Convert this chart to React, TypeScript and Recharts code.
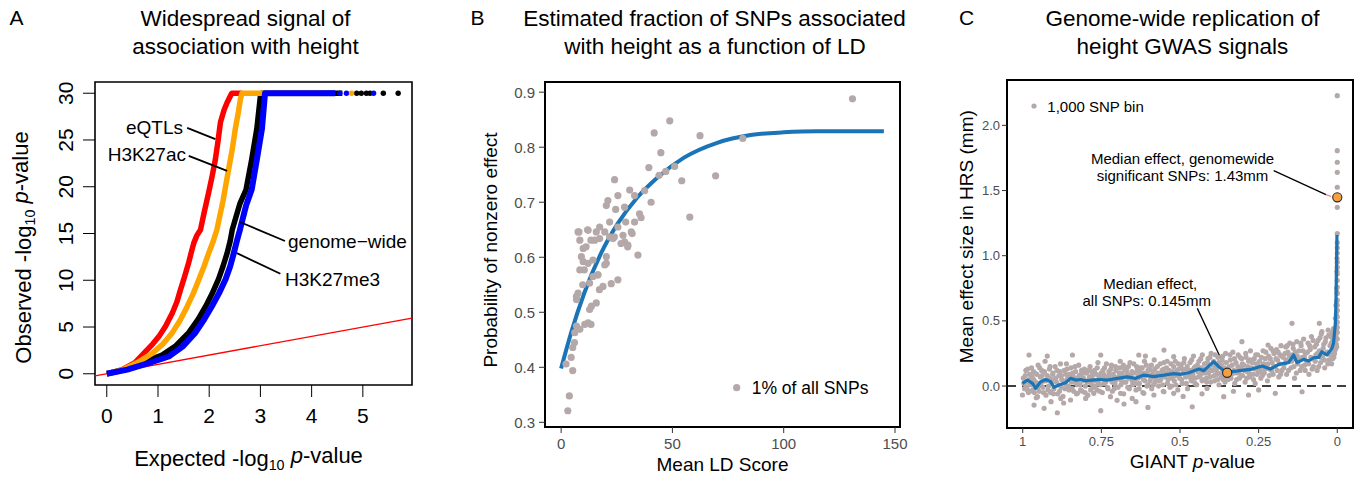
import React from 'react'
import {
  ComposedChart, Line, Scatter, XAxis, YAxis,
  ReferenceLine, ReferenceArea,
} from 'recharts'

const FONT = '"Liberation Sans", Arial, Helvetica, sans-serif'
const GREY_PT = '#B5A8A8'
const BLUE = '#1A74B6'
const ORANGE = '#F5A040'

type Pair = [number, number]
const pts = (a: Pair[]) => a.map(([x, y]) => ({ x, y }))

// ---------- A: QQ plot (expected vs observed -log10 p) ----------
const qqTicksX = [0, 1, 2, 3, 4, 5]
const qqTicksY = [0, 5, 10, 15, 20, 25, 30]

const eqtlCurve: Pair[] = [
  [0, 0], [0.3, 0.45], [0.55, 1.2], [0.76, 2.4], [0.9, 3.2], [1.02, 4.0], [1.15, 5.1],
  [1.28, 6.5], [1.37, 7.7], [1.44, 9.0], [1.52, 10.4], [1.6, 11.9], [1.66, 13.2],
  [1.7, 14.0], [1.76, 14.8], [1.83, 15.4], [1.9, 17.2], [1.99, 19.4], [2.06, 21.2],
  [2.12, 22.9], [2.17, 24.8], [2.22, 26.9], [2.29, 28.2], [2.35, 29.0], [2.44, 30], [2.64, 30],
]
const h3k27acCurve: Pair[] = [
  [0, 0], [0.3, 0.4], [0.6, 1.2], [0.89, 2.2], [1.1, 3.2], [1.28, 4.4], [1.43, 5.7],
  [1.57, 7.2], [1.69, 8.6], [1.8, 10.1], [1.9, 11.5], [1.99, 12.9], [2.08, 14.2],
  [2.15, 15.4], [2.27, 18.5], [2.38, 21.9], [2.45, 24.0], [2.51, 26.2], [2.57, 28.0],
  [2.61, 29.4], [2.64, 30], [4.3, 30],
]
const genomeCurve: Pair[] = [
  [0, 0], [0.4, 0.5], [0.75, 1.3], [1.08, 2.0], [1.35, 3.0], [1.6, 4.4], [1.78, 5.8],
  [1.93, 7.2], [2.06, 8.6], [2.18, 10.1], [2.27, 11.5], [2.35, 12.9], [2.41, 14.2],
  [2.45, 15.4], [2.6, 18.2], [2.72, 19.7], [2.83, 22.9], [2.93, 26.2], [3.0, 29.7],
  [3.02, 30], [4.6, 30],
]
const h3k27me3Curve: Pair[] = [
  [0, 0], [0.4, 0.45], [0.8, 1.1], [1.21, 1.85], [1.48, 2.9], [1.73, 4.4], [1.9, 5.8],
  [2.05, 7.2], [2.19, 8.6], [2.32, 10.1], [2.41, 11.5], [2.48, 12.9], [2.54, 14.2],
  [2.6, 15.4], [2.72, 18.0], [2.83, 19.7], [2.93, 22.9], [3.03, 26.2], [3.09, 30], [4.46, 30],
]
const genomeTail: Pair[] = [[4.88, 30], [4.97, 30], [5.07, 30], [5.14, 30], [5.4, 30], [5.69, 30]]
const h3k27me3Tail: Pair[] = [[4.55, 30], [4.68, 30], [5.21, 30]]
const h3k27acTail: Pair[] = [[4.78, 30]]

// ---------- B: LD score vs probability of nonzero effect ----------
const ldTicksX = [0, 50, 100, 150]
const ldTicksY = [0.3, 0.4, 0.5, 0.6, 0.7, 0.8, 0.9]
const ldBins: Pair[] = [
  [130.9, 0.888], [48.8, 0.848], [41.8, 0.826], [62.4, 0.821], [81.6, 0.816], [44.8, 0.79],
  [39.4, 0.763], [44.0, 0.749], [47.0, 0.756], [51.0, 0.765], [69.4, 0.748], [54.2, 0.739],
  [57.8, 0.673], [24.0, 0.741], [25.5, 0.712], [30.8, 0.722], [33.0, 0.712], [37.5, 0.721],
  [40.4, 0.7], [21.0, 0.703], [20.3, 0.694], [24.5, 0.687], [28.5, 0.691], [35.2, 0.679],
  [35.9, 0.672], [33.0, 0.664], [29.0, 0.664], [21.8, 0.664], [17.3, 0.655], [15.8, 0.646],
  [12.1, 0.649], [7.6, 0.646], [8.4, 0.631], [9.9, 0.616], [9.1, 0.601], [9.9, 0.592],
  [12.1, 0.589], [8.4, 0.577], [14.3, 0.595], [15.1, 0.631], [17.3, 0.634], [19.6, 0.646],
  [21.8, 0.637], [23.3, 0.634], [25.5, 0.655], [27.8, 0.64], [28.5, 0.628], [30.0, 0.622],
  [31.5, 0.646], [34.5, 0.604], [20.3, 0.601], [20.3, 0.589], [19.6, 0.586], [16.6, 0.568],
  [14.3, 0.565], [25.5, 0.559], [22.5, 0.552], [18.8, 0.547], [12.8, 0.553], [15.8, 0.517],
  [13.6, 0.511], [12.8, 0.505], [6.9, 0.529], [7.6, 0.535], [6.9, 0.523], [12.1, 0.481],
  [10.6, 0.478], [6.9, 0.475], [8.4, 0.469], [6.1, 0.463], [13.4, 0.478], [6.0, 0.445],
  [5.2, 0.436], [4.5, 0.418], [2.2, 0.406], [5.2, 0.394], [3.7, 0.348], [3.0, 0.321],
  [31.9, 0.643], [29.9, 0.619], [26.9, 0.625], [23.9, 0.637], [11.9, 0.65], [8.0, 0.646],
  [11.2, 0.619], [13.4, 0.631], [10.4, 0.577], [16.4, 0.568], [9.7, 0.55], [17.2, 0.541],
]
const ldFit: Pair[] = [
  [0, 0.398], [4.5, 0.463], [10.4, 0.535], [17.9, 0.607], [25.4, 0.661], [34.3, 0.709],
  [43.3, 0.745], [55.2, 0.781], [70.1, 0.808], [85.1, 0.822], [100, 0.827], [114.9, 0.829], [145, 0.829],
]

// ---------- C: GIANT p-value vs HRS effect ----------
const pTicksX = [1, 0.75, 0.5, 0.25, 0]
const pTicksY = [0, 0.5, 1, 1.5, 2]
const giantBand: Pair[] = [
  [0.998, 0.06], [0.994, -0.02], [0.99, 0.12], [0.986, 0.03], [0.982, -0.05], [0.978, 0.09], [0.976, 0.01],
  [0.972, 0.14], [0.968, -0.03], [0.965, 0.05], [0.961, 0.1], [0.957, -0.09], [0.954, 0.02], [0.951, 0.16],
  [0.948, -0.04], [0.944, 0.07], [0.94, 0.12], [0.936, -0.01], [0.933, 0.04], [0.929, 0.19], [0.926, -0.07],
  [0.922, 0.08], [0.918, 0.0], [0.915, 0.13], [0.911, -0.05], [0.907, 0.05], [0.904, 0.1], [0.901, -0.02],
  [0.897, 0.15], [0.893, 0.03], [0.889, -0.06], [0.885, 0.08], [0.882, 0.11], [0.878, -0.01], [0.876, 0.05],
  [0.872, -0.08], [0.868, 0.12], [0.865, 0.02], [0.861, 0.17], [0.857, 0.06], [0.853, -0.03], [0.851, 0.09],
  [0.847, 0.14], [0.843, -0.02], [0.84, 0.07], [0.836, 0.03], [0.832, 0.11], [0.829, -0.06], [0.826, 0.04],
  [0.822, 0.16], [0.818, 0.01], [0.815, 0.09], [0.811, -0.04], [0.807, 0.06], [0.804, 0.13], [0.801, 0.0],
  [0.797, 0.1], [0.793, -0.07], [0.79, 0.05], [0.786, 0.15], [0.782, 0.02], [0.779, 0.08], [0.776, -0.01],
  [0.772, 0.12], [0.768, 0.04], [0.764, -0.03], [0.761, 0.18], [0.757, 0.07], [0.753, 0.01], [0.751, 0.1],
  [0.747, -0.05], [0.743, 0.09], [0.74, 0.14], [0.736, 0.03], [0.732, 0.06], [0.729, -0.02], [0.726, 0.11],
  [0.722, 0.05], [0.718, 0.16], [0.715, -0.04], [0.711, 0.08], [0.707, 0.02], [0.704, 0.12], [0.701, 0.06],
  [0.697, -0.01], [0.693, 0.1], [0.69, 0.19], [0.686, 0.04], [0.682, 0.07], [0.679, -0.06], [0.676, 0.13],
  [0.672, 0.03], [0.668, 0.09], [0.664, 0.15], [0.661, -0.02], [0.657, 0.06], [0.653, 0.11], [0.651, 0.01],
  [0.647, 0.17], [0.643, 0.05], [0.64, -0.03], [0.636, 0.12], [0.632, 0.08], [0.629, 0.02], [0.626, 0.14],
  [0.622, 0.07], [0.618, -0.05], [0.615, 0.1], [0.611, 0.04], [0.607, 0.16], [0.604, 0.09], [0.601, 0.01],
  [0.597, 0.13], [0.593, 0.06], [0.59, -0.02], [0.586, 0.11], [0.582, 0.2], [0.579, 0.03], [0.576, 0.08],
  [0.572, 0.15], [0.568, 0.0], [0.564, 0.09], [0.561, 0.05], [0.557, 0.12], [0.553, -0.04], [0.551, 0.18],
  [0.547, 0.07], [0.543, 0.14], [0.54, 0.02], [0.536, 0.1], [0.532, -0.01], [0.529, 0.17], [0.526, 0.06],
  [0.522, 0.11], [0.518, 0.04], [0.515, 0.19], [0.511, 0.08], [0.507, -0.03], [0.504, 0.13], [0.501, 0.06],
  [0.497, 0.16], [0.493, 0.02], [0.49, 0.1], [0.486, 0.21], [0.482, 0.07], [0.479, 0.13], [0.476, -0.02],
  [0.472, 0.09], [0.468, 0.18], [0.464, 0.04], [0.461, 0.12], [0.457, 0.23], [0.453, 0.06], [0.451, 0.15],
  [0.447, 0.01], [0.443, 0.11], [0.44, 0.19], [0.436, 0.08], [0.432, 0.14], [0.429, 0.24], [0.426, 0.05],
  [0.422, 0.17], [0.418, 0.1], [0.415, 0.03], [0.411, 0.21], [0.407, 0.13], [0.404, 0.07], [0.401, 0.25],
  [0.397, 0.12], [0.393, 0.19], [0.39, 0.04], [0.386, 0.15], [0.382, 0.09], [0.379, 0.22], [0.376, 0.01],
  [0.372, 0.16], [0.368, 0.07], [0.364, 0.23], [0.361, 0.11], [0.357, 0.03], [0.353, 0.18], [0.351, 0.13],
  [0.347, 0.05], [0.343, 0.15], [0.34, 0.2], [0.336, 0.09], [0.332, 0.26], [0.329, 0.12], [0.326, 0.02],
  [0.322, 0.18], [0.318, 0.1], [0.315, 0.24], [0.311, 0.06], [0.307, 0.14], [0.304, 0.21], [0.301, 0.08],
  [0.297, 0.16], [0.293, 0.03], [0.29, 0.22], [0.286, 0.11], [0.282, 0.19], [0.279, 0.07], [0.276, 0.27],
  [0.272, 0.14], [0.268, 0.09], [0.264, 0.21], [0.261, 0.02], [0.257, 0.17], [0.253, 0.24], [0.251, 0.12],
  [0.247, 0.19], [0.243, 0.06], [0.24, 0.14], [0.236, 0.27], [0.232, 0.1], [0.229, 0.21], [0.226, 0.16],
  [0.222, 0.04], [0.218, 0.23], [0.215, 0.13], [0.211, 0.29], [0.207, 0.18], [0.204, 0.09], [0.201, 0.25],
  [0.197, 0.15], [0.193, 0.28], [0.19, 0.2], [0.186, 0.07], [0.182, 0.24], [0.179, 0.31], [0.176, 0.12],
  [0.172, 0.22], [0.168, 0.17], [0.164, 0.3], [0.161, 0.09], [0.157, 0.26], [0.153, 0.19], [0.151, 0.33],
  [0.147, 0.14], [0.143, 0.24], [0.14, 0.29], [0.136, 0.06], [0.132, 0.21], [0.129, 0.34], [0.126, 0.17],
  [0.122, 0.27], [0.118, 0.12], [0.115, 0.31], [0.111, 0.22], [0.107, 0.36], [0.104, 0.16], [0.101, 0.25],
  [0.097, 0.19], [0.093, 0.33], [0.09, 0.09], [0.086, 0.28], [0.082, 0.38], [0.079, 0.21], [0.076, 0.15],
  [0.072, 0.3], [0.068, 0.24], [0.064, 0.12], [0.061, 0.35], [0.057, 0.27], [0.053, 0.18], [0.051, 0.4],
  [0.047, 0.23], [0.043, 0.32], [0.04, 0.14], [0.036, 0.37], [0.032, 0.26], [0.029, 0.43], [0.026, 0.2],
  [0.023, 0.31], [0.02, 0.38], [0.018, 0.17], [0.016, 0.27], [0.014, 0.35], [0.012, 0.44], [0.011, 0.22],
]
const giantBand2: Pair[] = [
  [0.996, 0.02], [0.992, 0.08], [0.988, -0.01], [0.984, 0.13], [0.98, 0.05], [0.977, -0.04],
  [0.97, 0.07], [0.966, 0.11], [0.963, -0.05], [0.959, 0.03], [0.955, 0.09], [0.952, -0.01],
  [0.946, 0.14], [0.942, 0.02], [0.938, 0.08], [0.934, -0.05], [0.931, 0.11], [0.927, 0.04],
  [0.92, -0.03], [0.916, 0.06], [0.913, 0.15], [0.909, 0.02], [0.905, 0.09], [0.902, -0.06],
  [0.895, 0.06], [0.891, 0.12], [0.887, 0.01], [0.883, -0.04], [0.88, 0.17], [0.877, 0.08],
  [0.87, 0.04], [0.866, -0.02], [0.863, 0.09], [0.859, 0.13], [0.855, 0.0], [0.852, 0.07],
  [0.845, 0.03], [0.841, 0.1], [0.838, -0.04], [0.834, 0.15], [0.83, 0.06], [0.827, 0.01],
  [0.82, 0.08], [0.816, -0.03], [0.813, 0.12], [0.809, 0.04], [0.805, 0.1], [0.802, -0.05],
  [0.795, 0.03], [0.791, 0.12], [0.788, 0.07], [0.784, -0.03], [0.78, 0.11], [0.777, 0.05],
  [0.77, 0.0], [0.766, 0.09], [0.763, 0.14], [0.759, 0.02], [0.755, -0.04], [0.752, 0.06],
  [0.745, 0.12], [0.741, 0.02], [0.738, 0.07], [0.734, 0.17], [0.73, -0.01], [0.727, 0.08],
  [0.72, 0.13], [0.716, 0.03], [0.713, 0.09], [0.709, -0.02], [0.705, 0.15], [0.702, 0.05],
  [0.695, 0.07], [0.691, 0.14], [0.688, 0.01], [0.684, 0.1], [0.68, 0.16], [0.677, 0.03],
  [0.67, 0.12], [0.666, -0.01], [0.663, 0.06], [0.659, 0.18], [0.655, 0.09], [0.652, 0.04],
  [0.645, 0.1], [0.641, 0.02], [0.638, 0.15], [0.634, 0.06], [0.63, -0.02], [0.627, 0.11],
  [0.62, 0.14], [0.616, 0.05], [0.613, 0.19], [0.609, 0.08], [0.605, 0.0], [0.602, 0.12],
  [0.595, 0.04], [0.591, 0.16], [0.588, 0.09], [0.584, 0.01], [0.58, 0.13], [0.577, 0.06],
  [0.57, 0.1], [0.566, 0.04], [0.563, 0.17], [0.559, 0.08], [0.555, 0.01], [0.552, 0.13],
  [0.545, 0.1], [0.541, 0.19], [0.538, 0.05], [0.534, 0.12], [0.53, 0.08], [0.527, 0.0],
  [0.52, 0.15], [0.516, 0.08], [0.513, 0.01], [0.509, 0.12], [0.505, 0.17], [0.502, 0.09],
  [0.495, 0.05], [0.491, 0.13], [0.488, 0.18], [0.484, 0.09], [0.48, 0.02], [0.477, 0.15],
  [0.47, 0.12], [0.466, 0.06], [0.463, 0.2], [0.459, 0.09], [0.455, 0.14], [0.452, 0.02],
  [0.445, 0.16], [0.441, 0.07], [0.438, 0.12], [0.434, 0.21], [0.43, 0.04], [0.427, 0.1],
  [0.42, 0.13], [0.416, 0.06], [0.413, 0.18], [0.409, 0.1], [0.405, 0.22], [0.402, 0.03],
  [0.395, 0.16], [0.391, 0.08], [0.388, 0.24], [0.384, 0.12], [0.38, 0.05], [0.377, 0.18],
  [0.37, 0.1], [0.366, 0.2], [0.363, 0.05], [0.359, 0.14], [0.355, 0.25], [0.352, 0.07],
  [0.345, 0.12], [0.341, 0.24], [0.338, 0.06], [0.334, 0.16], [0.33, 0.1], [0.327, 0.21],
  [0.32, 0.05], [0.316, 0.15], [0.313, 0.11], [0.309, 0.22], [0.305, 0.08], [0.302, 0.17],
  [0.295, 0.12], [0.291, 0.25], [0.288, 0.06], [0.284, 0.15], [0.28, 0.1], [0.277, 0.2],
  [0.27, 0.18], [0.266, 0.05], [0.263, 0.13], [0.259, 0.24], [0.255, 0.09], [0.252, 0.16],
  [0.245, 0.11], [0.241, 0.22], [0.238, 0.08], [0.234, 0.17], [0.23, 0.13], [0.227, 0.26],
  [0.22, 0.17], [0.216, 0.08], [0.213, 0.21], [0.209, 0.12], [0.205, 0.27], [0.202, 0.15],
  [0.195, 0.21], [0.191, 0.12], [0.188, 0.26], [0.184, 0.17], [0.18, 0.09], [0.177, 0.23],
  [0.17, 0.14], [0.166, 0.25], [0.163, 0.2], [0.159, 0.31], [0.155, 0.12], [0.152, 0.23],
  [0.145, 0.19], [0.141, 0.32], [0.138, 0.15], [0.134, 0.26], [0.13, 0.1], [0.127, 0.23],
  [0.12, 0.2], [0.116, 0.33], [0.113, 0.15], [0.109, 0.27], [0.105, 0.22], [0.102, 0.12],
  [0.095, 0.26], [0.091, 0.17], [0.088, 0.31], [0.084, 0.22], [0.08, 0.13], [0.077, 0.35],
  [0.07, 0.19], [0.066, 0.32], [0.063, 0.25], [0.059, 0.15], [0.055, 0.37], [0.052, 0.22],
  [0.045, 0.29], [0.041, 0.2], [0.038, 0.34], [0.034, 0.25], [0.03, 0.17], [0.027, 0.39],
  [0.022, 0.24], [0.019, 0.33], [0.017, 0.41], [0.015, 0.21], [0.013, 0.3], [0.01, 0.36],
]
const giantOutliers: Pair[] = [
  [0.98, 0.238], [0.922, 0.23], [0.842, 0.238], [0.752, 0.238], [1.001, -0.069], [0.964, -0.146],
  [0.932, -0.171], [0.89, -0.205], [0.752, -0.189], [0.678, -0.138], [0.602, -0.164], [0.551, 0.276],
  [0.631, 0.238], [0.61, 0.23], [0.52, 0.225], [0.461, -0.159], [0.361, -0.082], [0.282, -0.069],
  [0.197, -0.056], [0.112, -0.044], [0.414, -0.018], [0.144, 0.481], [0.057, 0.481], [0.303, 0.34],
  [0.22, 0.315], [0.049, 0.417], [0.985, -0.031], [0.953, -0.082], [0.911, -0.044], [0.879, -0.095],
  [0.848, -0.107], [0.826, -0.056], [0.8, -0.095], [0.774, -0.056], [0.721, -0.082], [0.689, -0.056],
  [0.652, -0.095], [0.615, -0.056], [0.583, -0.069], [0.551, -0.044], [0.52, -0.056], [0.91, -0.12],
  [0.87, -0.13], [0.7, -0.11], [0.64, -0.12], [0.49, -0.08], [0.43, -0.06], [0.33, -0.04], [0.25, -0.03],
]
const giantTop: Pair[] = [
  [0.008, 0.3], [0.007, 0.4], [0.006, 0.52], [0.005, 0.36], [0.004, 0.62], [0.003, 0.48], [0.002, 0.75],
  [0.002, 0.3], [0.001, 0.88], [0.001, 0.58], [0, 1.17], [0, 1.1], [0, 1.02], [0, 0.95], [0, 0.81],
  [0, 0.76], [0, 0.71], [0, 0.66], [0, 0.58], [0, 0.53], [0, 0.45], [0, 1.371], [0, 1.525], [0, 1.64],
  [0, 1.717], [0, 1.806], [0, 2.228], [0.009, 0.25], [0.008, 0.42], [0.007, 0.33], [0.006, 0.28],
  [0.005, 0.45], [0.004, 0.38], [0.003, 0.55], [0.003, 0.32], [0.002, 0.65], [0.002, 0.42],
  [0.001, 0.72], [0.001, 0.98], [0, 0.86], [0, 0.91], [0, 1.06], [0, 0.62], [0, 0.49], [0, 0.41], [0, 0.36],
]
const giantTrend: Pair[] = [
  [1.001, 0.02], [0.985, 0.046], [0.969, 0.02], [0.959, -0.018], [0.943, 0.033], [0.927, 0.05],
  [0.911, 0.033], [0.901, -0.01], [0.885, 0.008], [0.864, 0.025], [0.848, 0.059], [0.832, 0.046],
  [0.816, 0.05], [0.8, 0.04], [0.779, 0.046], [0.757, 0.05], [0.731, 0.046], [0.699, 0.059],
  [0.668, 0.07], [0.641, 0.059], [0.615, 0.084], [0.583, 0.072], [0.551, 0.084], [0.52, 0.095],
  [0.498, 0.09], [0.472, 0.102], [0.44, 0.13], [0.424, 0.118], [0.409, 0.153], [0.393, 0.187],
  [0.377, 0.148], [0.356, 0.11], [0.335, 0.11], [0.303, 0.12], [0.271, 0.13], [0.239, 0.153],
  [0.213, 0.13], [0.186, 0.166], [0.155, 0.179], [0.139, 0.238], [0.128, 0.179], [0.107, 0.205],
  [0.091, 0.192], [0.075, 0.217], [0.059, 0.22], [0.049, 0.263], [0.033, 0.238], [0.017, 0.289],
  [0.012, 0.328], [0.006, 0.481], [0.004, 0.66], [0.001, 1.159],
]
const giantMedians: Pair[] = [[0.35, 0.102], [0, 1.448]]

const circle = (r: number, fill: string, stroke = 'none', sw = 0) => (p: any) => (
  <circle cx={p.cx} cy={p.cy} r={r} fill={fill} stroke={stroke} strokeWidth={sw} />
)
const noDot = () => <g />

// R-style y tick label: turned to read bottom to top, sitting left of the tick
function VerticalTick(p: any) {
  const v = p.payload ? p.payload.value : ''
  return (
    <g transform={`translate(${p.x - 8},${p.y}) rotate(-90)`}>
      <text x={0} y={0} textAnchor="middle" fontSize={21} fill="#000" fontFamily={FONT}>{v}</text>
    </g>
  )
}

function PanelA() {
  return (
    <ComposedChart width={450} height={477} margin={{ top: 82, right: 38, bottom: 42, left: 35 }}>
      <XAxis type="number" dataKey="x" domain={[-0.23, 5.96]} ticks={qqTicksX} allowDataOverflow
        height={50} tickSize={12} tickMargin={11} axisLine={false} interval={0}
        tickLine={{ stroke: '#000' }} tick={{ fontSize: 21, fill: '#000', fontFamily: FONT }} />
      <YAxis type="number" dataKey="y" domain={[-1.2, 31.2]} ticks={qqTicksY} allowDataOverflow
        width={60} tickSize={12} tickMargin={2} axisLine={false} interval={0}
        tickLine={{ stroke: '#000' }} tick={<VerticalTick />} />
      <ReferenceLine segment={[{ x: -0.23, y: -0.23 }, { x: 5.96, y: 5.96 }]} stroke="#FF0000"
        strokeWidth={1.3} ifOverflow="visible" />
      <Line data={pts(genomeCurve)} dataKey="y" stroke="#000" strokeWidth={5.5} dot={false}
        isAnimationActive={false} strokeLinejoin="round" />
      <Line data={pts(eqtlCurve)} dataKey="y" stroke="#FF0000" strokeWidth={5.5} dot={false}
        isAnimationActive={false} strokeLinejoin="round" />
      <Line data={pts(h3k27acCurve)} dataKey="y" stroke="#FFA500" strokeWidth={5.5} dot={false}
        isAnimationActive={false} strokeLinejoin="round" />
      <Line data={pts(h3k27me3Curve)} dataKey="y" stroke="#0000FF" strokeWidth={6} dot={false}
        isAnimationActive={false} strokeLinejoin="round" />
      <Scatter data={pts(genomeTail)} dataKey="y" shape={circle(2.7, '#000')} isAnimationActive={false} />
      <Scatter data={pts(h3k27me3Tail)} dataKey="y" shape={circle(2.7, '#0000FF')} isAnimationActive={false} />
      <Scatter data={pts(h3k27acTail)} dataKey="y" shape={circle(2.7, '#FFA500')} isAnimationActive={false} />
      <ReferenceLine segment={[{ x: 1.57, y: 26.3 }, { x: 2.12, y: 25.1 }]} stroke="#000" strokeWidth={1.8} ifOverflow="visible" />
      <ReferenceLine segment={[{ x: 1.6, y: 23.3 }, { x: 2.35, y: 21.7 }]} stroke="#000" strokeWidth={1.8} ifOverflow="visible" />
      <ReferenceLine segment={[{ x: 2.61, y: 16.2 }, { x: 3.48, y: 14.2 }]} stroke="#000" strokeWidth={1.8} ifOverflow="visible" />
      <ReferenceLine segment={[{ x: 2.54, y: 12.9 }, { x: 3.39, y: 10.7 }]} stroke="#000" strokeWidth={1.8} ifOverflow="visible" />
      <ReferenceArea x1={-0.23} x2={5.96} y1={-1.2} y2={31.2} fill="none" stroke="#000"
        strokeWidth={1.6} ifOverflow="visible" />
    </ComposedChart>
  )
}

const gTick = (fs: number) => ({ fontSize: fs, fill: '#4D4D4D', fontFamily: FONT })

function PanelB() {
  return (
    <ComposedChart width={460} height={477} margin={{ top: 82, right: 10, bottom: 20, left: 40 }}>
      <XAxis type="number" dataKey="x" domain={[-7.25, 152.25]} ticks={ldTicksX} allowDataOverflow
        height={30} tickSize={6} tickMargin={5} axisLine={false} interval={0}
        tickLine={{ stroke: '#333' }} tick={gTick(15)} />
      <YAxis type="number" dataKey="y" domain={[0.2915, 0.9185]} ticks={ldTicksY} allowDataOverflow
        width={55} tickSize={6} tickMargin={4} axisLine={false} interval={0}
        tickLine={{ stroke: '#333' }} tick={gTick(15)} tickFormatter={(v: number) => v.toFixed(1)} />
      <Scatter data={pts(ldBins)} dataKey="y" shape={circle(3.6, GREY_PT)} isAnimationActive={false} />
      <Line data={pts(ldFit)} dataKey="y" type="monotone" stroke={BLUE} strokeWidth={4} dot={false}
        isAnimationActive={false} />
      <ReferenceArea x1={-7.25} x2={152.25} y1={0.2915} y2={0.9185} fill="none" stroke="#000"
        strokeWidth={2} ifOverflow="visible" />
    </ComposedChart>
  )
}

function PanelC() {
  return (
    <ComposedChart width={450} height={477} margin={{ top: 80, right: 7, bottom: 19, left: 42 }}>
      <XAxis type="number" dataKey="x" domain={[-0.05, 1.05]} reversed ticks={pTicksX} allowDataOverflow
        height={30} tickSize={5} tickMargin={4} axisLine={false} interval={0}
        tickLine={{ stroke: '#333' }} tick={gTick(13)} />
      <YAxis type="number" dataKey="y" domain={[-0.322, 2.348]} ticks={pTicksY} allowDataOverflow
        width={55} tickSize={5} tickMargin={2} axisLine={false} interval={0}
        tickLine={{ stroke: '#333' }} tick={gTick(13)} tickFormatter={(v: number) => v.toFixed(1)} />
      <Scatter data={pts(giantBand)} dataKey="y" shape={circle(2.6, GREY_PT)} isAnimationActive={false} />
      <Scatter data={pts(giantBand2)} dataKey="y" shape={circle(2.6, GREY_PT)} isAnimationActive={false} />
      <Scatter data={pts(giantOutliers)} dataKey="y" shape={circle(2.6, GREY_PT)} isAnimationActive={false} />
      <Scatter data={pts(giantTop)} dataKey="y" shape={circle(2.6, GREY_PT)} isAnimationActive={false} />
      <ReferenceLine y={0} stroke="#000" strokeWidth={1.6} strokeDasharray="9 6" />
      {/* running trend drawn in the scatter layer so it sits above the bins */}
      <Scatter data={pts(giantTrend)} dataKey="y" shape={noDot} isAnimationActive={false}
        line={{ stroke: BLUE, strokeWidth: 3.2, strokeLinejoin: 'round' }} lineType="joint" />
      <ReferenceLine segment={[{ x: 0.202, y: 1.652 }, { x: 0.036, y: 1.468 }]} stroke="#000" strokeWidth={1.3} ifOverflow="visible" />
      <ReferenceLine segment={[{ x: 0.036, y: 1.468 }, { x: 0.02, y: 1.455 }]} stroke="#F08080" strokeWidth={1.3} ifOverflow="visible" />
      <ReferenceLine segment={[{ x: 0.445, y: 0.596 }, { x: 0.366, y: 0.19 }]} stroke="#000" strokeWidth={1.3} ifOverflow="visible" />
      <ReferenceLine segment={[{ x: 0.366, y: 0.19 }, { x: 0.361, y: 0.158 }]} stroke="#F08080" strokeWidth={1.3} ifOverflow="visible" />
      <Scatter data={pts(giantMedians)} dataKey="y" shape={circle(4.6, ORANGE, '#2b2b2b', 1.1)} isAnimationActive={false} />
      <ReferenceArea x1={-0.05} x2={1.05} y1={-0.322} y2={2.348} fill="none" stroke="#000"
        strokeWidth={2} ifOverflow="visible" />
    </ComposedChart>
  )
}

const Sub = ({ children }: { children: React.ReactNode }) => (
  <tspan fontSize="0.65em" dy="0.3em">{children}</tspan>
)

function Overlay() {
  const t = { fontFamily: FONT, fill: '#000' }
  return (
    <svg width={1360} height={477} style={{ position: 'absolute', left: 0, top: 0, pointerEvents: 'none' }}>
      {/* panel letters */}
      <text x={9.5} y={25} fontSize={21} {...t}>A</text>
      <text x={470.5} y={25} fontSize={21} {...t}>B</text>
      <text x={959} y={25} fontSize={21} {...t}>C</text>

      {/* titles */}
      <g fontSize={22.5} textAnchor="middle" {...t}>
        <text x={245.5} y={26}>Widespread signal of</text>
        <text x={245.5} y={53.5}>association with height</text>
        <text x={714.5} y={26}>Estimated fraction of SNPs associated</text>
        <text x={715} y={53.5}>with height as a function of LD</text>
        <text x={1182.5} y={26}>Genome-wide replication of</text>
        <text x={1182.5} y={53.5}>height GWAS signals</text>
      </g>

      {/* A axis labels */}
      <text x={248.5} y={465.5} fontSize={22} textAnchor="middle" {...t}>
        Expected -log<Sub>10</Sub><tspan dy="-0.3em"> </tspan><tspan fontStyle="italic">p</tspan>-value
      </text>
      <text transform="translate(30.5,247.5) rotate(-90)" fontSize={22} textAnchor="middle" {...t}>
        Observed -log<Sub>10</Sub><tspan dy="-0.3em"> </tspan><tspan fontStyle="italic">p</tspan>-value
      </text>

      {/* A labels */}
      <g fontSize={19} {...t}>
        <text x={183} y={134.3} textAnchor="end">eQTLs</text>
        <text x={186} y={160.7} textAnchor="end">H3K27ac</text>
        <text x={288} y={248.3}>genome−wide</text>
        <text x={285} y={286}>H3K27me3</text>
      </g>

      {/* B axis labels + legend */}
      <text x={722.5} y={470.5} fontSize={19} textAnchor="middle" {...t}>Mean LD Score</text>
      <text transform="translate(497,250) rotate(-90)" fontSize={19} textAnchor="middle" {...t}>
        Probability of nonzero effect
      </text>
      <circle cx={736.7} cy={387.7} r={3.6} fill={GREY_PT} />
      <text x={751.7} y={394} fontSize={17.5} {...t}>1% of all SNPs</text>

      {/* C axis labels + legend + notes */}
      <text x={1192.5} y={467.7} fontSize={19} textAnchor="middle" {...t}>
        GIANT <tspan fontStyle="italic">p</tspan>-value
      </text>
      <text transform="translate(973,236.7) rotate(-90)" fontSize={19} textAnchor="middle" {...t}>
        Mean effect size in HRS (mm)
      </text>
      <circle cx={1034} cy={106} r={2.6} fill={GREY_PT} />
      <text x={1047.3} y={111.7} fontSize={15} {...t}>1,000 SNP bin</text>
      <g fontSize={15} textAnchor="middle" {...t}>
        <text x={1182.5} y={164.3}>Median effect, genomewide</text>
        <text x={1182.5} y={181}>significant SNPs: 1.43mm</text>
        <text x={1150.3} y={289.3}>Median effect,</text>
        <text x={1146.7} y={306}>all SNPs: 0.145mm</text>
      </g>
    </svg>
  )
}

export default function App() {
  return (
    <div style={{ position: 'relative', width: 1360, height: 477, background: '#fff', fontFamily: FONT }}>
      <style>{'body{margin:0}'}</style>
      <div style={{ position: 'absolute', left: 0, top: 0 }}><PanelA /></div>
      <div style={{ position: 'absolute', left: 450, top: 0 }}><PanelB /></div>
      <div style={{ position: 'absolute', left: 910, top: 0 }}><PanelC /></div>
      <Overlay />
    </div>
  )
}
